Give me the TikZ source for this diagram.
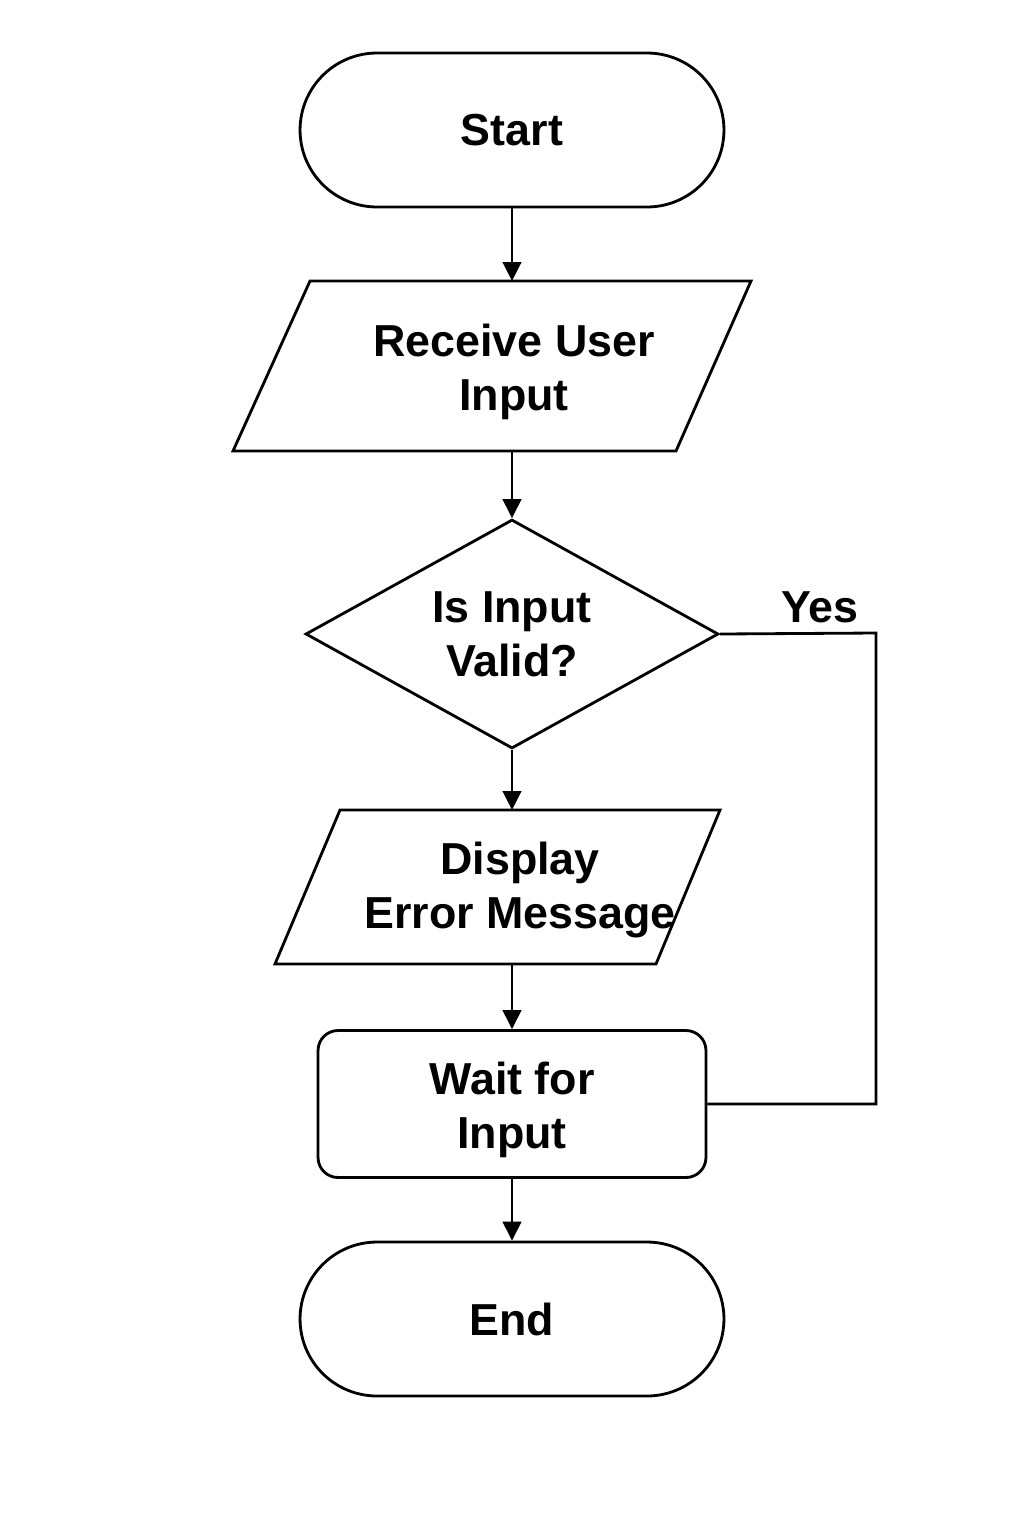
\documentclass[tikz,border=0pt]{standalone}
\usepackage{fontspec}
\setmainfont{Liberation Sans}
\usetikzlibrary{shapes.geometric,arrows.meta}
\tikzset{
  base/.style={draw=black,line width=1.6pt,align=center,inner sep=0pt,
    font=\fontsize{25.5pt}{30.7pt}\selectfont\bfseries},
  term/.style={base,rectangle,rounded corners=1.54cm,minimum width=8.48cm,minimum height=3.08cm},
  decide/.style={base,diamond,aspect=1.8,minimum width=8.26cm,minimum height=4.58cm},
  proc/.style={base,rectangle,rounded corners=0.4cm,minimum width=7.76cm,minimum height=2.94cm},
  txt/.style={align=center,inner sep=0pt,font=\fontsize{25.5pt}{30.7pt}\selectfont\bfseries},
  arr/.style={line width=1.6pt,-{Triangle[length=0.38cm,width=0.37cm]}},
  ln/.style={line width=1.6pt,line join=miter}
}
\begin{document}
\begin{tikzpicture}[x=0.02cm,y=-0.02cm]
\useasboundingbox[fill=white] (0,0) rectangle (1024,1536);
% shapes
\node[term] (start) at (512,130) {Start};
\draw[ln] (310,281) coordinate (recvtop) -- (751,281) -- (676,451)
  -- (233,451) coordinate (recvbot) -- cycle;
\node[txt] (recvtxt) at (514,372) {Receive User\\Input};
\node[decide] (valid) at (512,634) {Is Input\\Valid?};
\draw[ln] (340,810) coordinate (disptop) -- (720,810) -- (656,964)
  -- (275,964) coordinate (dispbot) -- cycle;
\node[txt] (disptxt) at (520,890) {Display\\Error Message};
\node[proc] (wait) at (512,1104) {};
\node[txt] (waittxt) at (512,1110) {Wait for\\Input};
\node[term] (stop) at (512,1319) {End};
% connectors
\draw[arr] (start.south) -- (start.south |- recvtop);
\draw[arr] (valid.north |- recvbot) -- (valid.north);
\draw[arr] (valid.south) -- (valid.south |- disptop);
\draw[arr] (wait.north |- dispbot) -- (wait.north);
\draw[arr] (wait.south) -- (stop.north);
\coordinate (yesbend) at (876,633);
\draw[ln] (valid.east) -- (yesbend) |- (wait.east);
\node[txt] (yes) at (820,607) {Yes};
\end{tikzpicture}
\end{document}
